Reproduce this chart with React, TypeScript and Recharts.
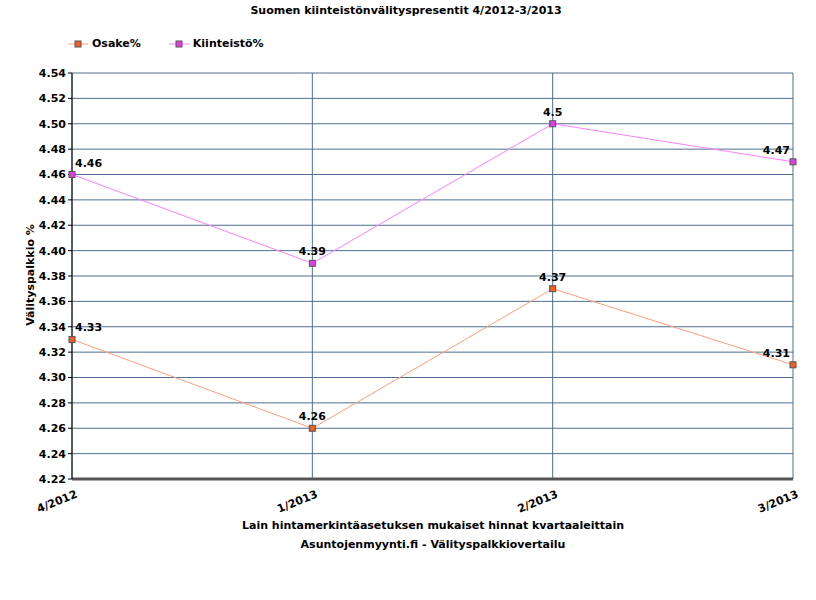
import React from 'react';
import { LineChart, Line, XAxis, YAxis, CartesianGrid, LabelList } from 'recharts';

const categories = ['4/2012', '1/2013', '2/2013', '3/2013'];
const osake = [4.33, 4.26, 4.37, 4.31];
const kiinteisto = [4.46, 4.39, 4.5, 4.47];
const yTicks = [4.22, 4.24, 4.26, 4.28, 4.3, 4.32, 4.34, 4.36, 4.38, 4.4, 4.42, 4.44, 4.46, 4.48, 4.5, 4.52, 4.54];

const data = categories.map((c, i) => ({ cat: c, osake: osake[i], kiinteisto: kiinteisto[i] }));

const FONT = '"DejaVu Sans", sans-serif';

const SquareDot = (fill: string) => (props: any) => {
  const { cx, cy, index } = props;
  if (cx == null || cy == null) return <g key={index} />;
  return <rect key={index} x={cx - 3} y={cy - 3} width={6} height={6} fill={fill} stroke="#555" strokeWidth={1} />;
};

const makeLabel = (n: number) => (props: any) => {
  const { x, y, value, index } = props;
  let anchor: 'start' | 'middle' | 'end' = 'middle';
  let dx = 0;
  if (index === 0) { anchor = 'start'; dx = 3; }
  if (index === n - 1) { anchor = 'end'; dx = -3; }
  return (
    <text x={x + dx} y={y - 8} textAnchor={anchor} fontFamily={FONT} fontWeight="bold" fontSize={11} fill="#000">
      {String(value)}
    </text>
  );
};

const XTick = (props: any) => {
  const { x, y, payload } = props;
  return (
    <g transform={`translate(${x + 6},${y + 10})`}>
      <text x={0} y={0} textAnchor="end" transform="rotate(-22)" fontFamily={FONT} fontWeight="bold" fontSize={11} fill="#000">
        {payload.value}
      </text>
    </g>
  );
};

export default function App() {
  return (
    <div style={{ position: 'absolute', left: 0, top: 0, width: 816, height: 600, background: '#fff', fontFamily: FONT }}>
      <div style={{ position: 'absolute', left: 0, width: 816, top: 4, textAlign: 'center', fontSize: 11, fontWeight: 'bold' }}>
        <span style={{ position: 'relative', left: -2 }}>Suomen kiinteistönvälityspresentit 4/2012-3/2013</span>
      </div>
      <div style={{ position: 'absolute', left: 68, top: 37, fontSize: 11, fontWeight: 'bold', display: 'flex', alignItems: 'center' }}>
        <svg width={20} height={10} style={{ marginRight: 4 }}>
          <line x1={0} y1={5} x2={20} y2={5} stroke="#ffa07a" strokeWidth={1} />
          <rect x={7} y={2} width={6} height={6} fill="#f06020" stroke="#555" />
        </svg>
        <span>Osake%</span>
        <svg width={20} height={10} style={{ marginLeft: 28, marginRight: 4 }}>
          <line x1={0} y1={5} x2={20} y2={5} stroke="#ff80ff" strokeWidth={1} />
          <rect x={7} y={2} width={6} height={6} fill="#e040e0" stroke="#555" />
        </svg>
        <span>Kiinteistö%</span>
      </div>
      <div style={{ position: 'absolute', left: 30, top: 275, transform: 'translate(-50%,-50%) rotate(-90deg)', fontSize: 11, fontWeight: 'bold', whiteSpace: 'nowrap' }}>
        Välityspalkkio %
      </div>
      <div style={{ position: 'absolute', left: 0, width: 866, top: 519, textAlign: 'center', fontSize: 11, fontWeight: 'bold' }}>
        Lain hintamerkintäasetuksen mukaiset hinnat kvartaaleittain
      </div>
      <div style={{ position: 'absolute', left: 0, width: 866, top: 538, textAlign: 'center', fontSize: 11, fontWeight: 'bold' }}>
        Asuntojenmyynti.fi - Välityspalkkiovertailu
      </div>
      <div style={{ position: 'absolute', left: 0, top: 0 }}>
        <LineChart width={816} height={600} data={data} margin={{ top: 73, right: 23, bottom: 0, left: 0 }}>
          <CartesianGrid stroke="#4f6f90" strokeWidth={1} vertical={true} horizontal={true} />
          <XAxis
            dataKey="cat"
            height={121}
            axisLine={{ stroke: '#555', strokeWidth: 3 }}
            tickLine={false}
            tick={<XTick />}
            interval={0}
          />
          <YAxis
            width={72}
            domain={[4.22, 4.54]}
            ticks={yTicks}
            interval={0}
            axisLine={{ stroke: '#000', strokeWidth: 1 }}
            tickLine={{ stroke: '#000' }}
            tickSize={4}
            tick={{ fontFamily: FONT, fontWeight: 'bold', fontSize: 11, fill: '#000' }}
            tickFormatter={(v: number) => v.toFixed(2)}
          />
          <Line
            dataKey="osake"
            stroke="#ffa07a"
            strokeWidth={1}
            isAnimationActive={false}
            dot={SquareDot('#f06020')}
            activeDot={false}
          >
            <LabelList dataKey="osake" content={makeLabel(categories.length)} />
          </Line>
          <Line
            dataKey="kiinteisto"
            stroke="#ff80ff"
            strokeWidth={1}
            isAnimationActive={false}
            dot={SquareDot('#e040e0')}
            activeDot={false}
          >
            <LabelList dataKey="kiinteisto" content={makeLabel(categories.length)} />
          </Line>
        </LineChart>
      </div>
    </div>
  );
}
